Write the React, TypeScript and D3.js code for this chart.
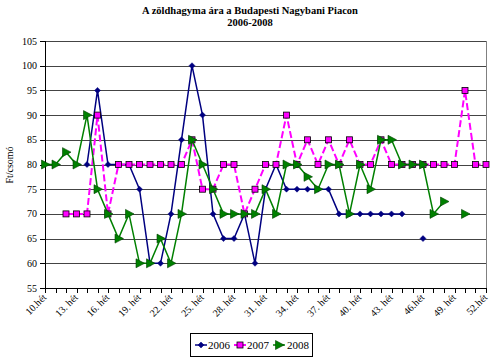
import React from "react";
import * as d3 from "d3";

const weeks: number[] = d3.range(10, 53);
const tickWeeks = [10, 13, 16, 19, 22, 25, 28, 31, 34, 37, 40, 43, 46, 49, 52];
const tickLabels = ["10.hét", "13. hét", "16. hét", "19. hét", "22. hét", "25. hét", "28. hét", "31. hét", "34. hét", "37. hét", "40. hét", "43. hét", "46.hét", "49. hét", "52.hét"];
const yTicks = [55, 60, 65, 70, 75, 80, 85, 90, 95, 100, 105];

const N = null;
// weeks 10..52
const s2006: (number | null)[] = [
  N, N, N, N, 80, 95, 80, 80, 80, 75,
  60, 60, 70, 85, 100, 90, 70, 65, 65, 70,
  60, 75, 80, 75, 75, 75, 75, 75, 70, 70,
  70, 70, 70, 70, 70, N, 65, N, N, N,
  N, N, N,
];
const s2007: (number | null)[] = [
  N, N, 70, 70, 70, 90, 70, 80, 80, 80,
  80, 80, 80, 80, 85, 75, 75, 80, 80, 70,
  75, 80, 80, 90, 80, 85, 80, 85, 80, 85,
  80, 80, 85, 80, 80, 80, 80, 80, 80, 80,
  95, 80, 80,
];
const s2008: (number | null)[] = [
  80, 80, 82.5, 80, 90, 75, 70, 65, 70, 60,
  60, 65, 60, 70, 85, 80, 75, 70, 70, 70,
  70, 75, 70, 80, 80, 77.5, 75, 80, 80, 70,
  80, 75, 85, 85, 80, 80, 80, 70, 72.5, N,
  70, N, N,
];

const W = 500, H = 362;
const x = d3.scaleLinear().domain([10, 52]).range([45, 486]);
const y = d3.scaleLinear().domain([55, 105]).range([288, 41]);

type Pt = { w: number; v: number | null };
const toPts = (s: (number | null)[]): Pt[] => weeks.map((w, i) => ({ w, v: s[i] }));

const line = d3
  .line<Pt>()
  .defined((d) => d.v !== null)
  .x((d) => x(d.w))
  .y((d) => y(d.v as number));

const FONT = "'Liberation Serif', 'Times New Roman', serif";

const Diamond = ({ cx, cy }: { cx: number; cy: number }) => (
  <path d={`M${cx},${cy - 3}L${cx + 3},${cy}L${cx},${cy + 3}L${cx - 3},${cy}Z`} fill="#000080" stroke="#000080" strokeWidth={0.5} />
);
const Square = ({ cx, cy }: { cx: number; cy: number }) => (
  <rect x={cx - 3} y={cy - 3} width={6} height={6} fill="#FF00FF" stroke="#000000" strokeWidth={0.8} />
);
const Tri = ({ cx, cy }: { cx: number; cy: number }) => (
  <path d={`M${cx - 3.5},${cy - 4.5}L${cx + 5},${cy}L${cx - 3.5},${cy + 4.5}Z`} fill="#008000" stroke="#004000" strokeWidth={0.6} />
);

export default function App() {
  const p06 = toPts(s2006);
  const p07 = toPts(s2007);
  const p08 = toPts(s2008);
  return (
    <svg width={W} height={H} style={{ position: "absolute", left: 0, top: 0, background: "#fff" }} fontFamily={FONT}>
      <text x={250} y={14} textAnchor="middle" fontSize={10.5} fontWeight="bold">
        A zöldhagyma ára a Budapesti Nagybani Piacon
      </text>
      <text x={250} y={26} textAnchor="middle" fontSize={10.5} fontWeight="bold">
        2006-2008
      </text>

      {/* gridlines */}
      {yTicks.map((t) => (
        <g key={t}>
          <line x1={45} x2={486} y1={Math.round(y(t)) + 0.5} y2={Math.round(y(t)) + 0.5} stroke="#444" strokeWidth={1} />
          <line x1={40} x2={45} y1={Math.round(y(t)) + 0.5} y2={Math.round(y(t)) + 0.5} stroke="#000" />
          <text x={37} y={y(t) + 3.5} textAnchor="end" fontSize={10}>
            {t}
          </text>
        </g>
      ))}
      <line x1={486.5} x2={486.5} y1={41} y2={288} stroke="#808080" />
      <line x1={45.5} x2={45.5} y1={41} y2={289} stroke="#000" />
      <line x1={45} x2={486} y1={288.5} y2={288.5} stroke="#000" />
      {weeks.map((w) => (
        <line key={w} x1={Math.round(x(w)) + 0.5} x2={Math.round(x(w)) + 0.5} y1={288} y2={293} stroke="#000" />
      ))}
      {tickWeeks.map((w, i) => (
        <text key={w} transform={`translate(${x(w) + 2},${298}) rotate(-45)`} textAnchor="end" fontSize={10}>
          {tickLabels[i]}
        </text>
      ))}
      <text transform={`translate(13,165) rotate(-90)`} textAnchor="middle" fontSize={10}>
        Ft/csomó
      </text>

      {/* series: 2006, then 2007, then 2008 on top */}
      <path d={line(p06) || ""} fill="none" stroke="#000080" strokeWidth={1.5} />
      {p06.filter((d) => d.v !== null).map((d) => (
        <Diamond key={"a" + d.w} cx={x(d.w)} cy={y(d.v as number)} />
      ))}
      <path d={line(p07) || ""} fill="none" stroke="#FF00FF" strokeWidth={2} strokeDasharray="7,3" />
      {p07.filter((d) => d.v !== null).map((d) => (
        <Square key={"b" + d.w} cx={x(d.w)} cy={y(d.v as number)} />
      ))}
      <path d={line(p08) || ""} fill="none" stroke="#008000" strokeWidth={1.5} />
      {p08.filter((d) => d.v !== null).map((d) => (
        <Tri key={"c" + d.w} cx={x(d.w)} cy={y(d.v as number)} />
      ))}

      {/* legend */}
      <rect x={190.5} y={333.5} width={122} height={23} fill="#fff" stroke="#000" />
      <line x1={195} x2={207} y1={345} y2={345} stroke="#000080" strokeWidth={1.5} />
      <Diamond cx={201} cy={345} />
      <text x={208} y={349} fontSize={11}>2006</text>
      <line x1={234} x2={246} y1={345} y2={345} stroke="#FF00FF" strokeWidth={2} />
      <Square cx={240} cy={345} />
      <text x={247} y={349} fontSize={11}>2007</text>
      <line x1={273} x2={285} y1={345} y2={345} stroke="#008000" strokeWidth={1.5} />
      <Tri cx={279} cy={345} />
      <text x={287} y={349} fontSize={11}>2008</text>
    </svg>
  );
}
